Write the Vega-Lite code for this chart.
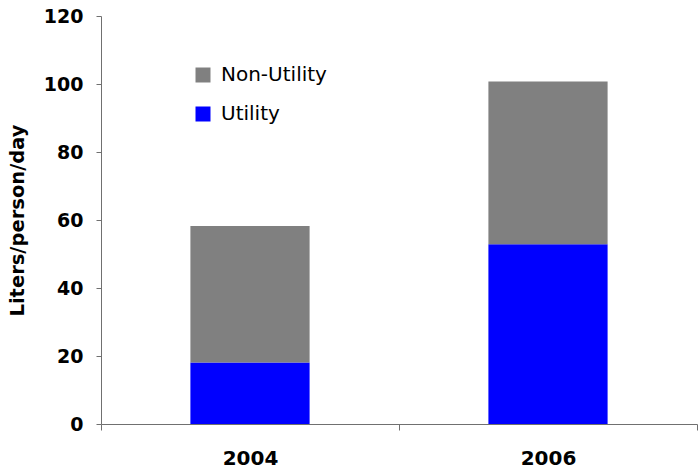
{
  "$schema": "https://vega.github.io/schema/vega-lite/v6.json",
  "autosize": "none",
  "width": 596,
  "height": 408,
  "padding": {"left": 101, "top": 16, "right": 2, "bottom": 51},
  "background": "white",
  "config": {
    "view": {"stroke": null},
    "font": "DejaVu Sans"
  },
  "data": {
    "values": [
      {"year": "2004", "source": "Utility", "liters": 18.1},
      {"year": "2004", "source": "Non-Utility", "liters": 40.1},
      {"year": "2006", "source": "Utility", "liters": 52.9},
      {"year": "2006", "source": "Non-Utility", "liters": 47.8}
    ]
  },
  "mark": {"type": "bar", "width": {"band": 0.4}},
  "encoding": {
    "x": {
      "field": "year",
      "type": "nominal",
      "scale": {"paddingInner": 0, "paddingOuter": 0},
      "axis": {
        "title": null,
        "labelAngle": 0,
        "tickBand": "extent",
        "labelFont": "DejaVu Sans",
        "labelFontSize": 20,
        "labelFontWeight": "bold",
        "labelColor": "black",
        "labelPadding": 18,
        "domainColor": "#707070",
        "tickColor": "#707070",
        "tickSize": 6
      }
    },
    "y": {
      "field": "liters",
      "type": "quantitative",
      "stack": "zero",
      "scale": {"domain": [0, 120], "nice": false},
      "axis": {
        "title": "Liters/person/day",
        "titleFont": "DejaVu Sans",
        "titleFontSize": 19.5,
        "titleFontWeight": "bold",
        "titleColor": "black",
        "titlePadding": 16,
        "values": [0, 20, 40, 60, 80, 100, 120],
        "grid": false,
        "labelFont": "DejaVu Sans",
        "labelFontSize": 19,
        "labelFontWeight": "bold",
        "labelColor": "black",
        "labelPadding": 13,
        "domainColor": "#707070",
        "tickColor": "#707070",
        "tickSize": 5
      }
    },
    "color": {
      "field": "source",
      "type": "nominal",
      "scale": {"domain": ["Non-Utility", "Utility"], "range": ["#808080", "#0000ff"]},
      "legend": {
        "title": null,
        "orient": "none",
        "legendX": 92,
        "legendY": 49,
        "symbolType": "square",
        "symbolSize": 225,
        "symbolStrokeWidth": 0,
        "labelFont": "DejaVu Sans",
        "labelFontSize": 20,
        "labelColor": "black",
        "labelOffset": 8,
        "rowPadding": 19
      }
    },
    "order": {"field": "source", "sort": "descending"}
  }
}
